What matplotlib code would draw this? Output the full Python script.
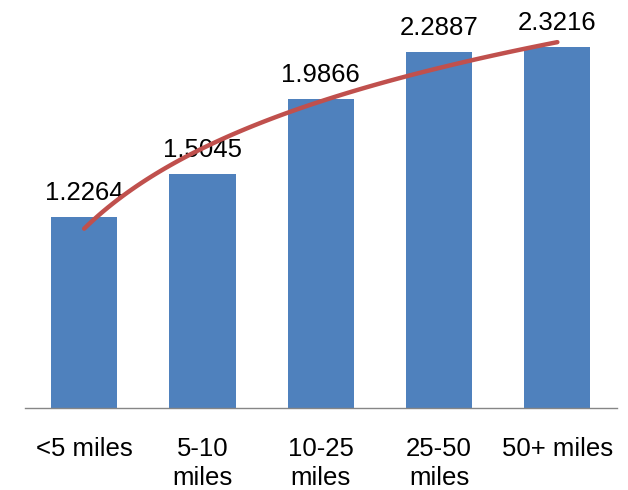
import numpy as np
import matplotlib
matplotlib.use("Agg")
import matplotlib.pyplot as plt

plt.rcParams['font.family'] = ['Liberation Sans', 'DejaVu Sans']

categories = ["<5 miles", "5-10\nmiles", "10-25\nmiles", "25-50\nmiles", "50+ miles"]
values = [1.2264, 1.5045, 1.9866, 2.2887, 2.3216]
labels = ["1.2264", "1.5045", "1.9866", "2.2887", "2.3216"]

x = np.arange(1, len(values) + 1)

fig = plt.figure(figsize=(6.28, 4.9), dpi=100)
ax = fig.add_axes([25 / 628, 82 / 490, 591.5 / 628, 408 / 490])

ax.bar(x, values, width=0.56, color='#4F81BD', zorder=2)

# logarithmic trendline, like the spreadsheet one
a, b = np.polyfit(np.log(x), values, 1)
xt = np.linspace(1, len(values), 100)
ax.plot(xt, a * np.log(xt) + b, color='#C0504D', linewidth=3.2,
        solid_capstyle='round', zorder=4)

for xi, v, lab in zip(x, values, labels):
    ax.text(xi, v + 0.075, lab, ha='center', va='bottom', fontsize=18.5,
            color='black', zorder=3)

ax.set_xlim(0.5, len(values) + 0.5)
ax.set_ylim(0, 2.622)
ax.set_xticks(x)
ax.set_xticklabels(categories, fontsize=18.5, linespacing=1.25)
ax.tick_params(axis='x', length=0, pad=21)
ax.set_yticks([])
for s in ['top', 'right', 'left']:
    ax.spines[s].set_visible(False)
ax.spines['bottom'].set_color('#868686')
ax.spines['bottom'].set_linewidth(1.0)

fig.savefig('out.png', dpi=100)
